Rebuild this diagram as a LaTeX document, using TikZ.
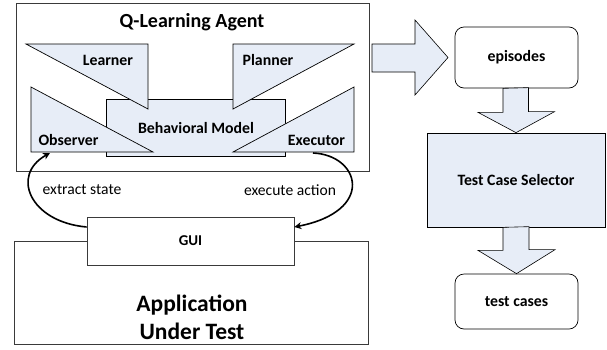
\documentclass[tikz,border=0pt]{standalone}
\usepackage{fontspec}
\setmainfont{Carlito}
\usetikzlibrary{positioning,arrows.meta}
\definecolor{partfill}{HTML}{E7EDF7}
\definecolor{frame}{HTML}{3A3A3A}

\begin{document}
\begin{tikzpicture}[
  x=1pt, y=-1pt,
  line join=miter,
  every node/.style={font=\bfseries\fontsize{15.8}{18}\selectfont, inner sep=1pt},
  outer/.style={draw=frame, fill=white, line width=0.7pt, inner sep=0pt},
  part/.style={draw=black, fill=partfill, line width=0.7pt},
  roundbox/.style={draw=black, fill=white, line width=0.7pt, rounded corners=9pt,
    minimum width=123pt, inner sep=0pt},
  blockarrow/.style={draw=black, fill=partfill, line width=0.6pt},
  flow/.style={draw=black, line width=1.6pt, -{Stealth[length=7pt,width=7pt]}},
  flowlabel/.style={font=\fontsize{15.6}{18}\selectfont},
  big/.style={font=\bfseries\fontsize{20}{24}\selectfont, align=center},
]
\useasboundingbox (0,0) rectangle (607,349);

% agent
\node[outer, minimum width=353pt, minimum height=168pt, anchor=north west] (agent) at (16,3) {};
\node[big] (title) at (192,22) {Q-Learning Agent};
\draw[part] (106,99) rectangle (285,156);
\draw[part] (26,44) -- (148,44) -- (148,109) -- cycle;
\draw[part] (31,87) -- (31,152) -- (153,152) -- cycle;
\draw[part] (233,44) -- (354,44) -- (233,109) -- cycle;
\draw[part] (233,152) -- (354,87) -- (354,152) -- cycle;
\node (model) at (196,128) {Behavioral Model};
\node (learner) at (108,60) {Learner};
\node (observer) at (68.5,140) {Observer};
\node (planner) at (268,60) {Planner};
\node (executor) at (316.5,140) {Executor};
\coordinate (obsin) at (50,153);
\coordinate (exeout) at (313,153);

% application
\node[outer, minimum width=354pt, minimum height=103pt, anchor=north west] (app) at (14,241) {};
\node[big, font=\bfseries\fontsize{23.5}{28}\selectfont] (apptext) at (192,317) {Application\\Under Test};
\node[outer, minimum width=207pt, minimum height=48pt, font=\bfseries\fontsize{15}{17}\selectfont] (gui) at (190.5,241) {GUI};

\draw[flow] ([yshift=14pt]gui.west) .. controls (30,222) and (10,175) .. (obsin);
\draw[flow] (exeout) .. controls (360,155) and (376,211) .. ([yshift=14pt]gui.east);
\node[flowlabel] (extract) at (82,190) {extract state};
\node[flowlabel] (execute) at (290,190) {execute action};

% selection
\node[roundbox, minimum height=61pt] (episodes) at (516.5,57.5) {episodes};
\node[part, minimum width=178pt, minimum height=94pt] (selector) at (516,180) {Test Case Selector};
\node[roundbox, minimum height=55pt] (testcases) at (516.5,301.5) {test cases};

\draw[blockarrow] (372,44) -- (415,44) -- (415,20) -- (448,57.5) -- (415,95) -- (415,72) -- (372,72) -- cycle;
\draw[blockarrow] ([xshift=-13.5pt]episodes.south) -- ++(0,24) -- ++(-25,0) -- (selector.north)
  -- ++(38.5,-21) -- ++(-26,0) -- ++(0,-24) -- cycle;
\draw[blockarrow] ([xshift=-13pt]selector.south) -- ++(0,23) -- ++(-25,0) -- (testcases.north)
  -- ++(38.5,-24) -- ++(-26,0) -- ++(0,-23) -- cycle;
\end{tikzpicture}
\end{document}
